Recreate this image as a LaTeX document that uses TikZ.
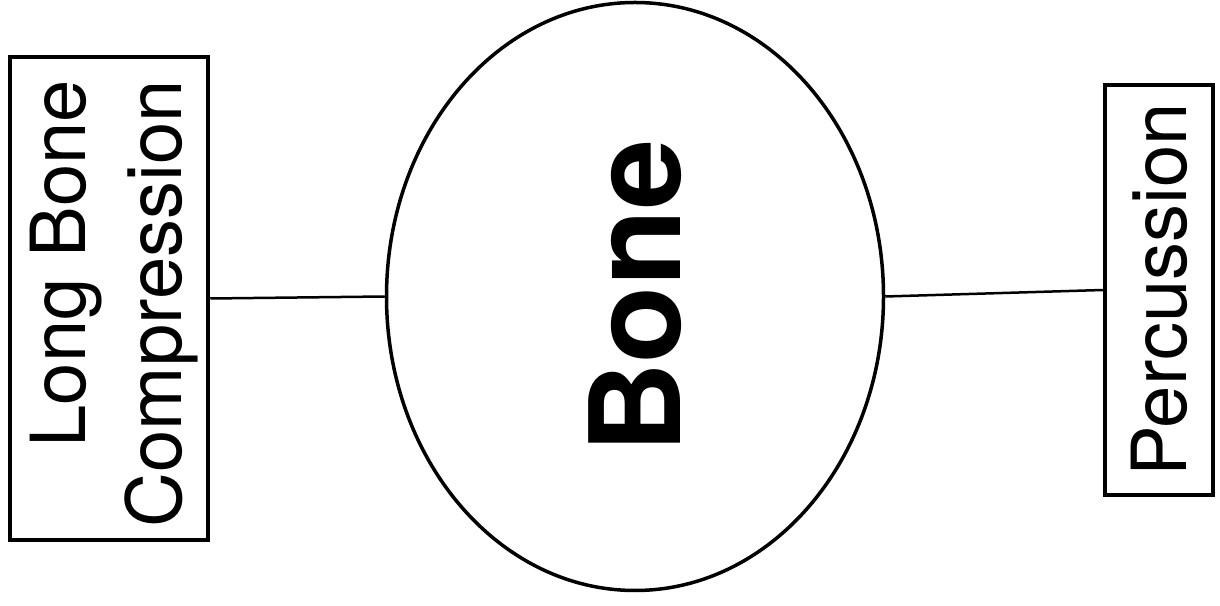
\documentclass[tikz,border=0pt]{standalone}
\usepackage{fontspec}
\setmainfont{TeX Gyre Heros}
\usepackage{tikz}
\usetikzlibrary{shapes.geometric,positioning}

\begin{document}
\begin{tikzpicture}[x=1pt, y=1pt,
    testbox/.style={rectangle, draw=black, line width=4.5pt, inner sep=0pt, font=\fontsize{76}{96}\selectfont},
    core/.style={ellipse, draw=black, line width=3.5pt, inner sep=0pt, minimum width=497pt, minimum height=588pt, font=\fontsize{126}{130}\selectfont\bfseries},
    link/.style={draw=black, line width=2.5pt}
]
\useasboundingbox (0,0) rectangle (1220,605);

\node[core] (Bone) at (635, 308.5) {\rotatebox{90}{Bone}};

\node[testbox, minimum width=198pt, minimum height=483pt] (LongBone) at (109, 306.5)
    {\rotatebox{90}{\raisebox{0pt}[\dimexpr(\height-\depth)/2+16pt][\dimexpr(\depth-\height)/2-16pt]{%
      \begin{tabular}{@{}r@{\hspace{10pt}}}Long Bone\\Compression\end{tabular}}}};
\node[testbox, minimum width=108pt, minimum height=410pt] (Percussion) at (1159, 315)
    {\rotatebox{90}{Percussion}};

% connections to the bone
\draw[link] (LongBone.east) -- (Bone.west);
\draw[link] (Bone.east) -- (Percussion.west);
\end{tikzpicture}
\end{document}
